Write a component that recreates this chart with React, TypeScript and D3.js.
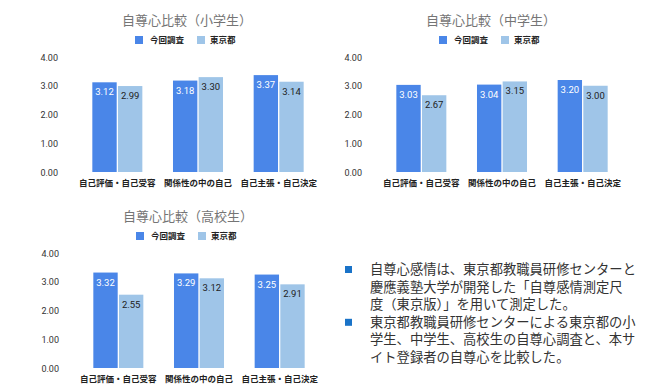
import * as d3 from "d3"

const categories = ["自己評価・自己受容", "関係性の中の自己", "自己主張・自己決定"]
const seriesNames = ["今回調査", "東京都"]
const seriesColors = ["#4a86e8", "#9fc5e8"]
const labelColors = ["#ffffff", "#222222"]
const yTicks = [0, 1, 2, 3, 4]

const elementary = [
  [3.12, 2.99],
  [3.18, 3.3],
  [3.37, 3.14],
]
const juniorHigh = [
  [3.03, 2.67],
  [3.04, 3.15],
  [3.2, 3.0],
]
const highSchool = [
  [3.32, 2.55],
  [3.29, 3.12],
  [3.25, 2.91],
]

const notes = [
  [
    "自尊心感情は、東京都教職員研修センターと",
    "慶應義塾大学が開発した「自尊感情測定尺",
    "度（東京版）」を用いて測定した。",
  ],
  [
    "東京都教職員研修センターによる東京都の小",
    "学生、中学生、高校生の自尊心調査と、本サ",
    "イト登録者の自尊心を比較した。",
  ],
]

const FONT = "'Noto Sans CJK JP', 'Noto Sans', sans-serif"

function Chart({ dx, dy, title, values }: { dx: number; dy: number; title: string; values: number[][] }) {
  const y = d3.scaleLinear().domain([0, 4]).range([172, 57])
  const x0 = d3.scaleBand().domain(categories).range([77, 319]).paddingInner(0.38).paddingOuter(0.19)
  const x1 = d3.scaleBand().domain(seriesNames).range([0, x0.bandwidth()]).paddingInner(0.05)
  const cx = 187

  return (
    <g transform={`translate(${dx},${dy})`} fontFamily={FONT}>
      <text x={cx} y={25} textAnchor="middle" fontSize={13} fill="#757575">
        {title}
      </text>
      {seriesNames.map((s, i) => (
        <g key={s}>
          <rect x={cx + (i === 0 ? -52 : 10)} y={36} width={8} height={8} fill={seriesColors[i]} />
          <text x={cx + (i === 0 ? -37 : 23)} y={43} fontSize={8.5} fill="#222" fontWeight="bold">
            {s}
          </text>
        </g>
      ))}
      {yTicks.map((t) => (
        <text key={t} x={58} y={y(t) + 3.5} textAnchor="end" fontSize={9} fill="#333" fontFamily="Roboto, sans-serif">
          {d3.format(".2f")(t)}
        </text>
      ))}
      {categories.map((c, ci) => (
        <g key={c} transform={`translate(${x0(c)},0)`}>
          {seriesNames.map((s, si) => {
            const v = values[ci][si]
            const bx = x1(s) as number
            return (
              <g key={s}>
                <rect x={bx} y={y(v)} width={x1.bandwidth()} height={y(0) - y(v)} fill={seriesColors[si]} />
                <text
                  x={bx + x1.bandwidth() / 2}
                  y={y(v) + 13}
                  textAnchor="middle"
                  fontSize={9.5}
                  fill={labelColors[si]}
                  fontFamily="Roboto, sans-serif"
                >
                  {d3.format(".2f")(v)}
                </text>
              </g>
            )
          })}
          <text x={x0.bandwidth() / 2} y={186} textAnchor="middle" fontSize={8.5} fill="#222" fontWeight="bold">
            {c}
          </text>
        </g>
      ))}
    </g>
  )
}

export default function App() {
  let line = 0
  return (
    <div style={{ position: "absolute", left: 0, top: 0 }}>
      <svg width={670} height={390} style={{ display: "block", background: "#fff" }}>
        <Chart dx={0} dy={0} title="自尊心比較（小学生）" values={elementary} />
        <Chart dx={304} dy={0} title="自尊心比較（中学生）" values={juniorHigh} />
        <Chart dx={1} dy={196} title="自尊心比較（高校生）" values={highSchool} />
        <g fontFamily={FONT} fontSize={13.3} fill="#333">
          {notes.map((item, i) => {
            const start = line
            line += item.length
            return (
              <g key={i}>
                <rect x={345} y={266 + start * 17.6} width={7} height={7} fill="#1a73c8" />
                {item.map((t, j) => (
                  <text key={j} x={370} y={274 + (start + j) * 17.6}>
                    {t}
                  </text>
                ))}
              </g>
            )
          })}
        </g>
      </svg>
    </div>
  )
}
